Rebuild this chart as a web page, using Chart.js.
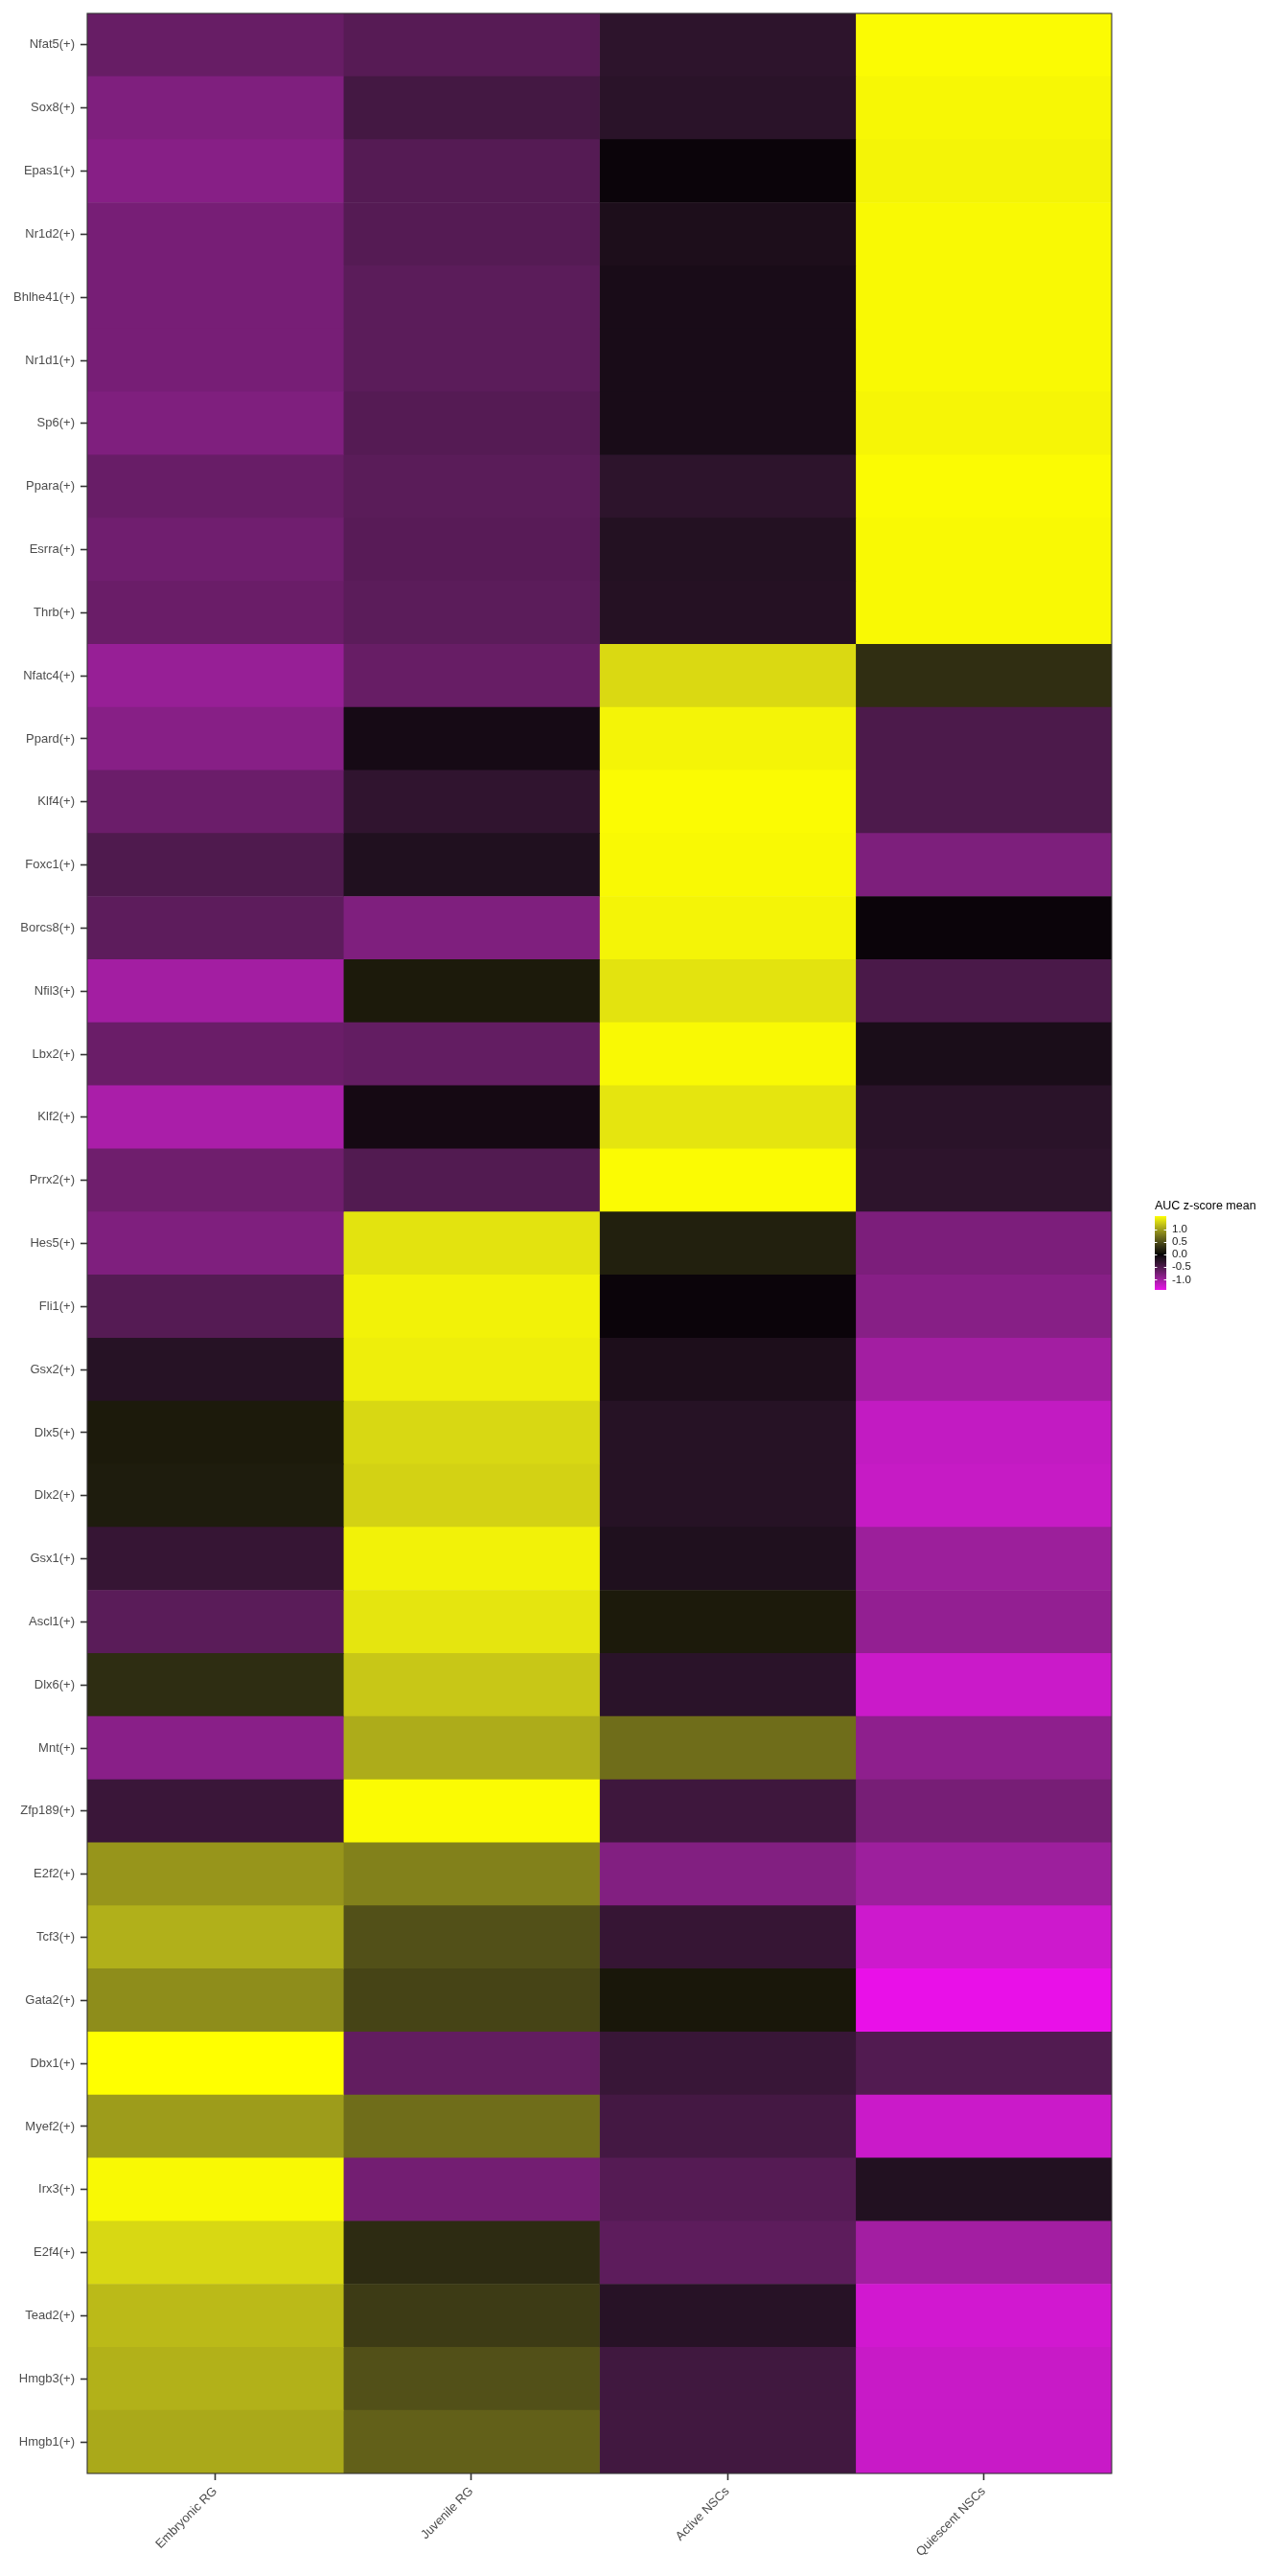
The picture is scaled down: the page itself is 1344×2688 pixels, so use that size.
<!DOCTYPE html>
<html>
<head>
<meta charset="utf-8">
<script src="https://cdn.jsdelivr.net/npm/chart.js@4.4.1/dist/chart.umd.min.js"></script>
<style>
  html, body { margin: 0; padding: 0; background: #ffffff; }
  #wrap { width: 1344px; height: 2688px; }
</style>
</head>
<body>
<div id="wrap"><canvas id="heat" width="1344" height="2688"></canvas></div>
<script>
// ---- data: AUC z-score mean per regulon and cell group ----
const regulons = [
  'Nfat5(+)', 'Sox8(+)', 'Epas1(+)', 'Nr1d2(+)', 'Bhlhe41(+)', 'Nr1d1(+)', 'Sp6(+)',
  'Ppara(+)', 'Esrra(+)', 'Thrb(+)', 'Nfatc4(+)', 'Ppard(+)', 'Klf4(+)', 'Foxc1(+)',
  'Borcs8(+)', 'Nfil3(+)', 'Lbx2(+)', 'Klf2(+)', 'Prrx2(+)', 'Hes5(+)', 'Fli1(+)',
  'Gsx2(+)', 'Dlx5(+)', 'Dlx2(+)', 'Gsx1(+)', 'Ascl1(+)', 'Dlx6(+)', 'Mnt(+)',
  'Zfp189(+)', 'E2f2(+)', 'Tcf3(+)', 'Gata2(+)', 'Dbx1(+)', 'Myef2(+)', 'Irx3(+)',
  'E2f4(+)', 'Tead2(+)', 'Hmgb3(+)', 'Hmgb1(+)'
];
const cellGroups = ['Embryonic RG', 'Juvenile RG', 'Active NSCs', 'Quiescent NSCs'];

const embryonicRG = [-0.65, -0.80, -0.85, -0.75, -0.75, -0.75, -0.80, -0.66, -0.71, -0.67,
  -0.94, -0.85, -0.68, -0.50, -0.59, -1.01, -0.67, -1.05, -0.70, -0.80, -0.54, -0.22,
  0.14, 0.16, -0.33, -0.57, 0.28, -0.86, -0.36, 0.94, 1.09, 0.89, 1.52, 0.98, 1.49,
  1.31, 1.15, 1.10, 1.05];
const juvenileRG = [-0.55, -0.43, -0.54, -0.54, -0.58, -0.58, -0.54, -0.57, -0.56, -0.58,
  -0.65, -0.10, -0.29, -0.18, -0.80, 0.14, -0.63, -0.09, -0.52, 1.37, 1.45, 1.43,
  1.31, 1.28, 1.45, 1.38, 1.22, 1.07, 1.50, 0.82, 0.52, 0.44, -0.62, 0.70, -0.73,
  0.27, 0.38, 0.52, 0.62];
const activeNSCs = [-0.27, -0.25, -0.04, -0.15, -0.12, -0.12, -0.12, -0.27, -0.20, -0.21,
  1.32, 1.46, 1.50, 1.49, 1.46, 1.37, 1.49, 1.38, 1.50, 0.19, -0.04, -0.15,
  -0.22, -0.22, -0.17, 0.14, -0.25, 0.70, -0.39, -0.82, -0.33, 0.12, -0.35, -0.43, -0.54,
  -0.59, -0.23, -0.40, -0.41];
const quiescentNSCs = [1.50, 1.48, 1.46, 1.49, 1.49, 1.49, 1.47, 1.50, 1.49, 1.49,
  0.29, -0.48, -0.49, -0.79, -0.04, -0.47, -0.13, -0.25, -0.27, -0.78, -0.85, -1.01,
  -1.19, -1.21, -0.97, -0.92, -1.23, -0.89, -0.75, -0.98, -1.25, -1.40, -0.52, -1.23, -0.19,
  -1.01, -1.27, -1.22, -1.22];

const columns = [embryonicRG, juvenileRG, activeNSCs, quiescentNSCs];
const legendTicks = [1.0, 0.5, 0.0, -0.5, -1.0];

// ---- colour scale: magenta -> black -> yellow, interpolated in Lab ----
function toLin(c) { c /= 255; return c <= 0.04045 ? c / 12.92 : Math.pow((c + 0.055) / 1.055, 2.4); }
function toSrgb(c) {
  c = c <= 0.0031308 ? 12.92 * c : 1.055 * Math.pow(c, 1 / 2.4) - 0.055;
  return Math.round(Math.max(0, Math.min(1, c)) * 255);
}
const WX = 0.95047, WZ = 1.08883;
function rgbToLab(rgb) {
  const r = toLin(rgb[0]), g = toLin(rgb[1]), b = toLin(rgb[2]);
  const x = (0.4124 * r + 0.3576 * g + 0.1805 * b) / WX;
  const y = 0.2126 * r + 0.7152 * g + 0.0722 * b;
  const z = (0.0193 * r + 0.1192 * g + 0.9505 * b) / WZ;
  const f = t => t > 0.008856 ? Math.cbrt(t) : 7.787 * t + 16 / 116;
  return [116 * f(y) - 16, 500 * (f(x) - f(y)), 200 * (f(y) - f(z))];
}
function labToRgb(lab) {
  const fy = (lab[0] + 16) / 116, fx = fy + lab[1] / 500, fz = fy - lab[2] / 200;
  const inv = t => t > 6 / 29 ? t * t * t : 3 * (6 / 29) * (6 / 29) * (t - 4 / 29);
  const x = WX * inv(fx), y = inv(fy), z = WZ * inv(fz);
  const r = 3.2406 * x - 1.5372 * y - 0.4986 * z;
  const g = -0.9689 * x + 1.8758 * y + 0.0415 * z;
  const b = 0.0557 * x - 0.2040 * y + 1.0570 * z;
  return [toSrgb(r), toSrgb(g), toSrgb(b)];
}
const labLow = rgbToLab([255, 0, 255]);
const labMid = rgbToLab([0, 0, 0]);
const labHigh = rgbToLab([255, 255, 0]);

const allValues = columns.flat();
const vMin = Math.min(...allValues);
const vMax = Math.max(...allValues);
const maxAbs = Math.max(Math.abs(vMin), Math.abs(vMax));

function fillColor(v) {
  const t = Math.max(-1, Math.min(1, v / maxAbs));
  const end = t < 0 ? labLow : labHigh;
  const k = Math.abs(t);
  const lab = [0, 1, 2].map(i => labMid[i] + (end[i] - labMid[i]) * k);
  const c = labToRgb(lab);
  return `rgb(${c[0]},${c[1]},${c[2]})`;
}

// ---- plugins: panel border and colourbar legend ----
const panelBorder = {
  id: 'panelBorder',
  afterDatasetsDraw(chart) {
    const { ctx, chartArea: a } = chart;
    ctx.save();
    ctx.strokeStyle = '#333333';
    ctx.lineWidth = 1.1;
    ctx.strokeRect(a.left, a.top, a.right - a.left, a.bottom - a.top);
    ctx.restore();
  }
};

const colourBar = {
  id: 'colourBar',
  afterDraw(chart) {
    const ctx = chart.ctx;
    const x0 = 1205, w = 12, top = 1269, bottom = 1346;
    const pxPerUnit = (bottom - top) / (vMax - vMin);
    const yOf = v => top + (vMax - v) * pxPerUnit;
    ctx.save();
    ctx.fillStyle = '#000000';
    ctx.font = '12.5px "Liberation Sans", Arial, sans-serif';
    ctx.textBaseline = 'alphabetic';
    ctx.textAlign = 'left';
    ctx.fillText('AUC z-score mean', x0, 1262);

    for (let y = top; y < bottom; y++) {
      const v = vMax - (y + 0.5 - top) / pxPerUnit;
      ctx.fillStyle = fillColor(v);
      ctx.fillRect(x0, y, w, 1);
    }

    ctx.strokeStyle = '#ffffff';
    ctx.lineWidth = 1;
    ctx.fillStyle = '#1a1a1a';
    ctx.font = '11.5px "Liberation Sans", Arial, sans-serif';
    ctx.textBaseline = 'middle';
    legendTicks.forEach(v => {
      const y = Math.round(yOf(v)) + 0.5;
      ctx.beginPath();
      ctx.moveTo(x0, y); ctx.lineTo(x0 + 2.4, y);
      ctx.moveTo(x0 + w - 2.4, y); ctx.lineTo(x0 + w, y);
      ctx.stroke();
      ctx.fillText(v.toFixed(1), 1223, yOf(v));
    });
    ctx.restore();
  }
};

// one floating-bar dataset per cell group, each cell spans its column index +/- 0.5
const datasets = cellGroups.map((name, k) => ({
  label: name,
  data: columns[k].map(() => [k - 0.5, k + 0.5]),
  backgroundColor: columns[k].map(fillColor),
  borderWidth: 0,
  barPercentage: 1,
  categoryPercentage: 1,
  grouped: false
}));

const tickFont = { family: '"Liberation Sans", Arial, sans-serif', size: 13 };

new Chart(document.getElementById('heat'), {
  type: 'bar',
  data: { labels: regulons, datasets: datasets },
  options: {
    indexAxis: 'y',
    responsive: false,
    devicePixelRatio: 1,
    animation: false,
    layout: { padding: { top: 14, right: 184, left: 0, bottom: 0 } },
    plugins: { legend: { display: false }, tooltip: { enabled: false } },
    scales: {
      y: {
        type: 'category',
        offset: true,
        border: { display: false },
        grid: { offset: false, drawOnChartArea: false, tickLength: 7, tickColor: '#333333', tickWidth: 1.6 },
        ticks: { autoSkip: false, font: tickFont, color: '#4d4d4d', padding: 6 },
        afterFit(scale) { scale.width = 91; }
      },
      x: {
        type: 'linear',
        min: -0.5,
        max: 3.5,
        border: { display: false },
        grid: { drawOnChartArea: false, tickLength: 7, tickColor: '#333333', tickWidth: 1.6 },
        afterBuildTicks(scale) {
          // one tick at the centre of each cell-group column
          scale.ticks = cellGroups.map((_, i) => ({ value: i }));
        },
        ticks: {
          autoSkip: false,
          maxRotation: 45,
          minRotation: 45,
          font: tickFont,
          color: '#4d4d4d',
          padding: 4,
          callback: v => cellGroups[v]
        },
        afterFit(scale) { scale.height = 107; }
      }
    }
  },
  plugins: [panelBorder, colourBar]
});
</script>
</body>
</html>
